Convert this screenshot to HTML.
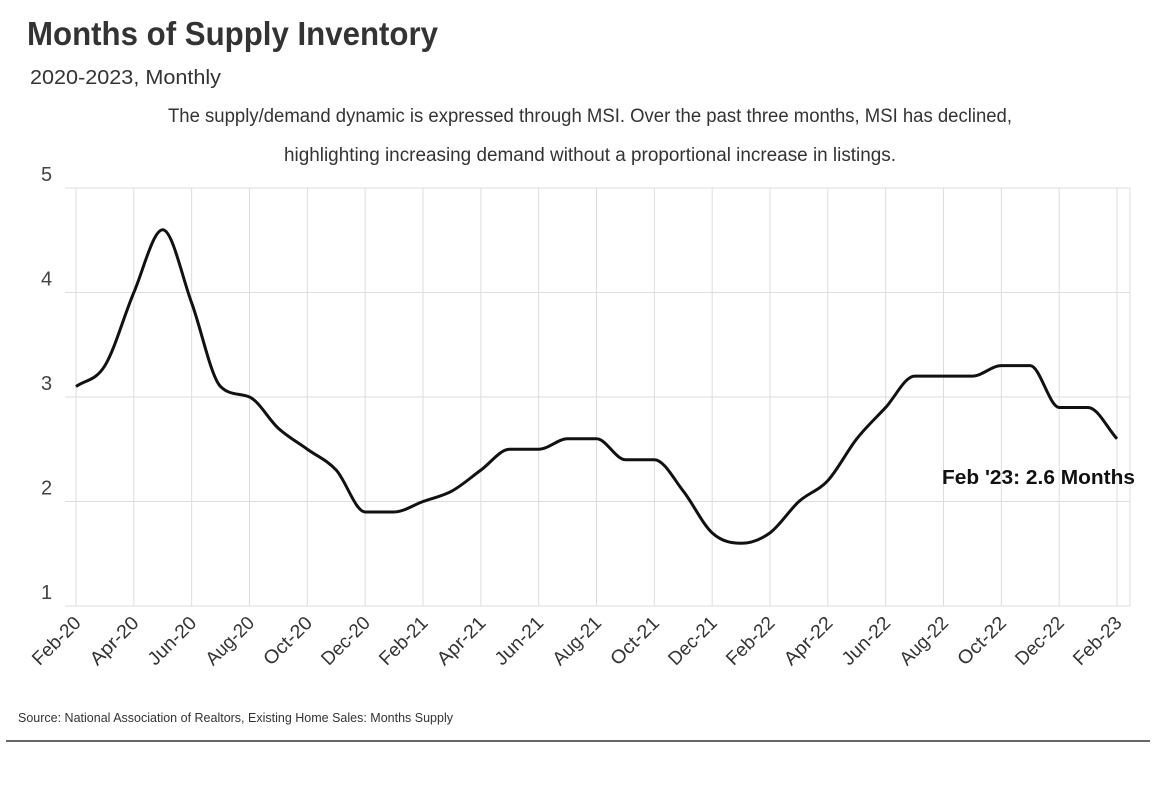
<!DOCTYPE html>
<html><head><meta charset="utf-8"><style>
body{margin:0;background:#fff;width:1160px;height:792px;overflow:hidden;font-family:"Liberation Sans Narrow","Liberation Sans",sans-serif;}
</style></head><body>
<svg id="c" width="1160" height="792" style="position:absolute;left:0;top:0">
<text x="27" y="45" font-size="33" font-weight="bold" fill="#333" textLength="411" lengthAdjust="spacingAndGlyphs">Months of Supply Inventory</text>
<text x="30" y="84" font-size="20" fill="#333" textLength="191" lengthAdjust="spacingAndGlyphs">2020-2023, Monthly</text>
<text x="168" y="122" font-size="19" fill="#333" textLength="844" lengthAdjust="spacingAndGlyphs">The supply/demand dynamic is expressed through MSI. Over the past three months, MSI has declined,</text>
<text x="284" y="161" font-size="19" fill="#333" textLength="612" lengthAdjust="spacingAndGlyphs">highlighting increasing demand without a proportional increase in listings.</text>
<g id="grid"></g><g id="ticks"></g>
<path id="line" fill="none" stroke="#111" stroke-width="3"/>
<text id="lbl" font-size="20" font-weight="bold" fill="#111" textLength="193" lengthAdjust="spacingAndGlyphs">Feb '23: 2.6 Months</text>
<text x="18" y="722" font-size="13" fill="#333" textLength="435" lengthAdjust="spacingAndGlyphs">Source:  National Association of Realtors, Existing Home Sales: Months Supply</text>
<line x1="6" y1="741" x2="1150" y2="741" stroke="#333" stroke-width="1.5"/>
</svg>
<script>
const months=["Feb-20","Mar-20","Apr-20","May-20","Jun-20","Jul-20","Aug-20","Sep-20","Oct-20","Nov-20","Dec-20","Jan-21","Feb-21","Mar-21","Apr-21","May-21","Jun-21","Jul-21","Aug-21","Sep-21","Oct-21","Nov-21","Dec-21","Jan-22","Feb-22","Mar-22","Apr-22","May-22","Jun-22","Jul-22","Aug-22","Sep-22","Oct-22","Nov-22","Dec-22","Jan-23","Feb-23"];
const values=[3.1,3.3,4.0,4.6,3.9,3.1,3.0,2.7,2.5,2.3,1.9,1.9,2.0,2.1,2.3,2.5,2.5,2.6,2.6,2.4,2.4,2.1,1.7,1.6,1.7,2.0,2.2,2.6,2.9,3.2,3.2,3.2,3.3,3.3,2.9,2.9,2.6];
const yTicks=[1,2,3,4,5];
const NS="http://www.w3.org/2000/svg";
const x0=76,x1=1117,yTop=188,yBot=606;
const xs=i=>x0+(x1-x0)*i/(months.length-1);
const ys=v=>yBot-(v-1)/(5-1)*(yBot-yTop);
const grid=document.getElementById('grid'),ticks=document.getElementById('ticks');
function mk(t,a,p){const e=document.createElementNS(NS,t);for(const k in a)e.setAttribute(k,a[k]);p.appendChild(e);return e;}
yTicks.forEach(v=>{
 const l=mk('line',{x1:65,x2:1130,y1:ys(v),y2:ys(v),stroke:'#ddd','stroke-width':1},grid);
 
 
 const t=mk('text',{x:41,y:ys(v)-7,'font-size':20,fill:'#444'},ticks);
 t.textContent=v;
 
 
});
months.forEach((m,i)=>{
 if(i%2)return;
 const x=xs(i);
 const l=mk('line',{x1:x,x2:x,y1:yTop,y2:yBot,stroke:'#ddd','stroke-width':1},grid);
 
 
 const t=mk('text',{x:x+6,y:yBot+18,'font-size':19,fill:'#333','text-anchor':'end',textLength:60,lengthAdjust:'spacingAndGlyphs',transform:`rotate(-45 ${x+6} ${yBot+18})`},ticks);
 t.textContent=m;
 
 
});
const vl=mk('line',{x1:1130,x2:1130,y1:yTop,y2:yBot,stroke:'#ddd'},grid);


const P=values.map((v,i)=>[xs(i),ys(v)]);const n=P.length;
const d=[],m=[];for(let i=0;i<n-1;i++)d.push((P[i+1][1]-P[i][1])/(P[i+1][0]-P[i][0]));
m[0]=d[0];m[n-1]=d[n-2];
for(let i=1;i<n-1;i++)m[i]=(d[i-1]*d[i]<=0)?0:(d[i-1]+d[i])/2;
for(let i=0;i<n-1;i++){if(d[i]===0){m[i]=0;m[i+1]=0;continue;}const a=m[i]/d[i],b=m[i+1]/d[i],s=a*a+b*b;if(s>9){const t=3/Math.sqrt(s);m[i]=t*a*d[i];m[i+1]=t*b*d[i];}}
let s=`M${P[0][0]},${P[0][1]}`;
for(let i=0;i<n-1;i++){const h=(P[i+1][0]-P[i][0])/3;s+=`C${P[i][0]+h},${P[i][1]+m[i]*h} ${P[i+1][0]-h},${P[i+1][1]-m[i+1]*h} ${P[i+1][0]},${P[i+1][1]}`;}
document.getElementById('line').setAttribute('d',s);
const lb=document.getElementById('lbl');lb.setAttribute('x',942);lb.setAttribute('y',ys(values[n-1])+45);
</script>
</body></html>
